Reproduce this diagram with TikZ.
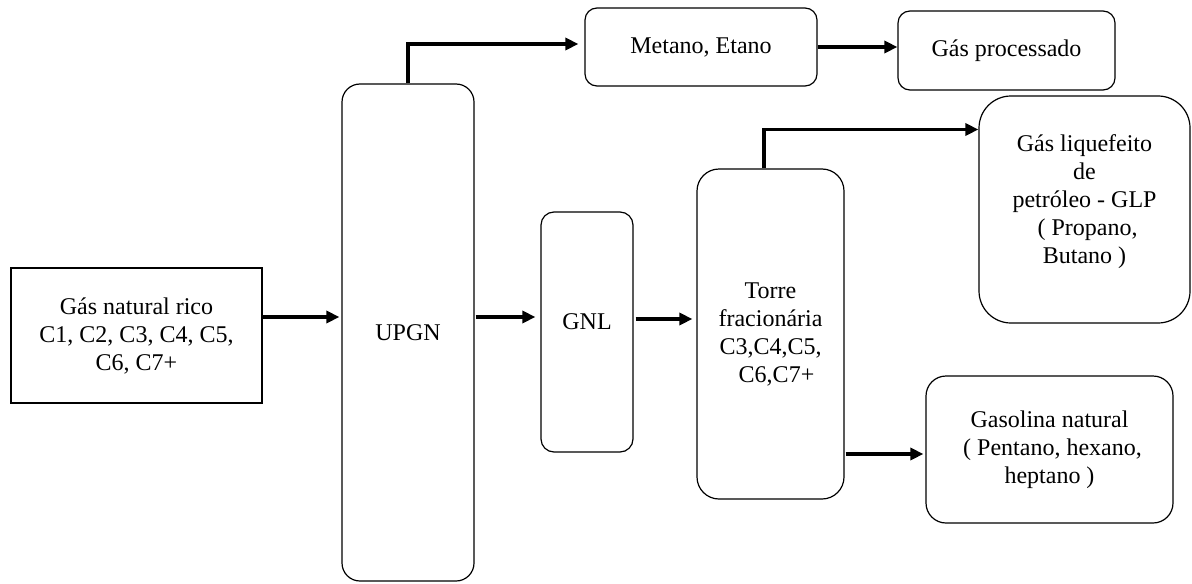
\documentclass[tikz,border=0pt]{standalone}
\usepackage{fontspec}
\setmainfont{Liberation Serif}
\usetikzlibrary{positioning, calc, arrows.meta}

\tikzset{
  blk/.style={draw, line width=0.6pt, inner sep=1pt, align=center, font=\fontsize{12}{14}\selectfont},
  flow/.style={-{Triangle[length=6.5pt, width=6pt]}, line width=1.7pt},
}

\begin{document}
\begin{tikzpicture}[x=0.5pt, y=-0.5pt]
\useasboundingbox (0,0) rectangle (1192,583);

\node (gas) [blk, minimum width=125.5pt, minimum height=67.5pt] at (136.5,335.5) {Gás natural rico\\C1, C2, C3, C4, C5,\\C6, C7+};
\node (upgn) [blk, rounded corners=9pt, minimum width=66pt, minimum height=248.5pt] at (408,332.5) {UPGN};
\node (metano) [blk, rounded corners=6pt, minimum width=116pt, minimum height=39pt] at (701,47) {Metano, Etano};
\node (proc) [blk, rounded corners=6pt, minimum width=108.5pt, minimum height=39.5pt] at (1006.5,50.5) {Gás processado};
\node (gnl) [blk, rounded corners=6.5pt, minimum width=46pt, minimum height=120pt] at (587,332) {\raisebox{5pt}[\height][\depth]{GNL}};
\node (torre) [blk, rounded corners=11pt, minimum width=73.5pt, minimum height=165pt] at (770.5,334) {Torre\\fracionária\\C3,C4,C5,\\~~C6,C7+};
\node (glp) [blk, rounded corners=16pt, minimum width=105.5pt, minimum height=113.5pt] at (1084.5,209.5) {\raisebox{4pt}[\height][\depth]{\begin{tabular}{@{}c@{}}Gás liquefeito\\de\\petróleo - GLP\\~( Propano,\\Butano )\end{tabular}}};
\node (gasolina) [blk, rounded corners=10pt, minimum width=123.5pt, minimum height=73.5pt] at (1049.5,449.5) {Gasolina natural\\~( Pentano, hexano,\\heptano )};

% main line
\draw [flow] ($(gas.east)+(0,9.25pt)$) -- ($(gas.east -| upgn.west)+(-1pt,9.25pt)$);
\draw [flow] ($(upgn.east)+(0.5pt,7.75pt)$) -- ($(upgn.east -| gnl.west)+(-2.5pt,7.75pt)$);
\draw [flow] ($(gnl.east)+(1pt,6.5pt)$) -- ($(gnl.east -| torre.west)+(-2pt,6.5pt)$);

% top products
\draw [flow] (upgn.north) |- ($(metano.west)+(-3pt,1.5pt)$);
\draw [flow] (metano.east) -- (metano.east -| proc.west);

% fractions
\draw [flow] ($(torre.north)+(-3.25pt,0)$) |- ($(glp.west)+(0,40pt)$);
\draw [flow] ($(torre.east |- gasolina.west)+(0.5pt,-2.25pt)$) -- ($(gasolina.west)+(-1pt,-2.25pt)$);
\end{tikzpicture}
\end{document}
